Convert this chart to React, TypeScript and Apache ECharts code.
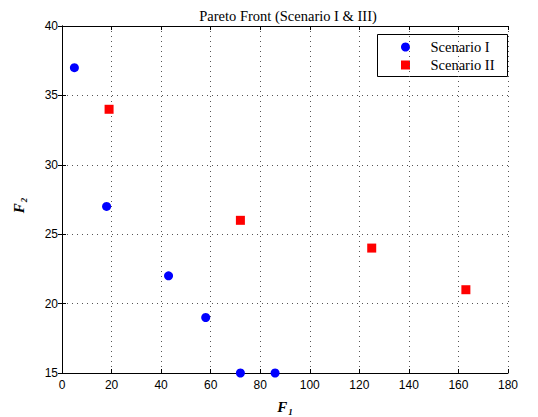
import React, { useEffect, useRef } from "react";
import * as echarts from "echarts";

const scenarioI: [number, number][] = [
  [5, 37], [18, 27], [43, 22], [58, 19], [72, 15], [86, 15],
];
const scenarioII: [number, number][] = [
  [19, 34], [72, 26], [125, 24], [163, 21],
];
const seriesNames = ["Scenario I", "Scenario II"];
const titleText = "Pareto Front (Scenario I & III)";

export default function App() {
  const ref = useRef<HTMLDivElement>(null);
  useEffect(() => {
    if (!ref.current) return;
    const chart = echarts.init(ref.current, undefined, { renderer: "svg" });
    const serif = "Liberation Serif";
    const sans = "Liberation Sans";
    const tickLabel = { color: "#000", fontFamily: sans, fontSize: 12 };
    const axisLine = { show: true, lineStyle: { color: "#000", width: 1 } };
    const axisTick = { show: true, inside: true, length: 4, lineStyle: { color: "#000" } };
    const grid = { show: true, lineStyle: { color: "#555", type: [1, 4] as any, width: 1 } };
    const nameRich = {
      f: { fontFamily: serif, fontStyle: "italic", fontWeight: "bold", fontSize: 15, color: "#000" },
      s: { fontFamily: serif, fontStyle: "italic", fontWeight: "bold", fontSize: 9, color: "#000", verticalAlign: "bottom", padding: [9, 0, 0, 1] },
    };
    chart.setOption({
      animation: false,
      backgroundColor: "#fff",
      title: {
        text: titleText,
        left: 283,
        top: 3,
        textAlign: "center",
        textStyle: { fontFamily: serif, fontSize: 14.5, fontWeight: "normal", color: "#000" },
      },
      grid: { left: 62, right: 30, top: 26, bottom: 44, containLabel: false, outerBoundsMode: "none" },
      xAxis: [
        {
          type: "value", min: 0, max: 180, interval: 20,
          axisLine, axisTick, splitLine: grid,
          axisLabel: { ...tickLabel, margin: 6 },
          name: "{f|F}{s|1}", nameLocation: "middle", nameGap: 25,
          nameTextStyle: { rich: nameRich },
        },
        {
          type: "value", min: 0, max: 180, interval: 20, position: "top",
          axisLine, axisTick, splitLine: { show: false }, axisLabel: { show: false },
        },
      ],
      yAxis: [
        {
          type: "value", min: 15, max: 40, interval: 5,
          axisLine, axisTick, splitLine: grid,
          axisLabel: { ...tickLabel, margin: 4 },
          name: "{f|F}{s|2}", nameLocation: "middle", nameGap: 34, nameRotate: 90,
          nameTextStyle: { rich: nameRich, padding: [0, 12, 0, 0] },
        },
        {
          type: "value", min: 15, max: 40, interval: 5, position: "right",
          axisLine, axisTick, splitLine: { show: false }, axisLabel: { show: false },
        },
      ],
      series: [
        {
          name: seriesNames[0], type: "scatter", data: scenarioI,
          symbol: "circle", symbolSize: 9, itemStyle: { color: "#0000ff", opacity: 1 },
          clip: false, z: 5,
        },
        {
          name: seriesNames[1], type: "scatter", data: scenarioII,
          symbol: "rect", symbolSize: 9, itemStyle: { color: "#ff0000", opacity: 1 },
          clip: false, z: 5,
        },
      ],
      graphic: [
        {
          type: "group", left: 377, top: 34, z: 100,
          children: [
            { type: "rect", shape: { x: 0, y: 0, width: 130, height: 42 }, style: { fill: "#fff", stroke: "#000", lineWidth: 1 } },
            { type: "circle", shape: { cx: 28, cy: 12.5, r: 4.5 }, style: { fill: "#0000ff" } },
            { type: "rect", shape: { x: 23.5, y: 26, width: 9, height: 9 }, style: { fill: "#ff0000" } },
            { type: "text", x: 53, y: 12.5, style: { text: seriesNames[0], fontFamily: serif, fontSize: 14.5, fill: "#000", verticalAlign: "middle" } },
            { type: "text", x: 53, y: 30.5, style: { text: seriesNames[1], fontFamily: serif, fontSize: 14.5, fill: "#000", verticalAlign: "middle" } },
          ],
        },
      ],
    });
    return () => chart.dispose();
  }, []);
  return <div ref={ref} style={{ width: 538, height: 417, position: "absolute", left: 0, top: 0 }} />;
}
